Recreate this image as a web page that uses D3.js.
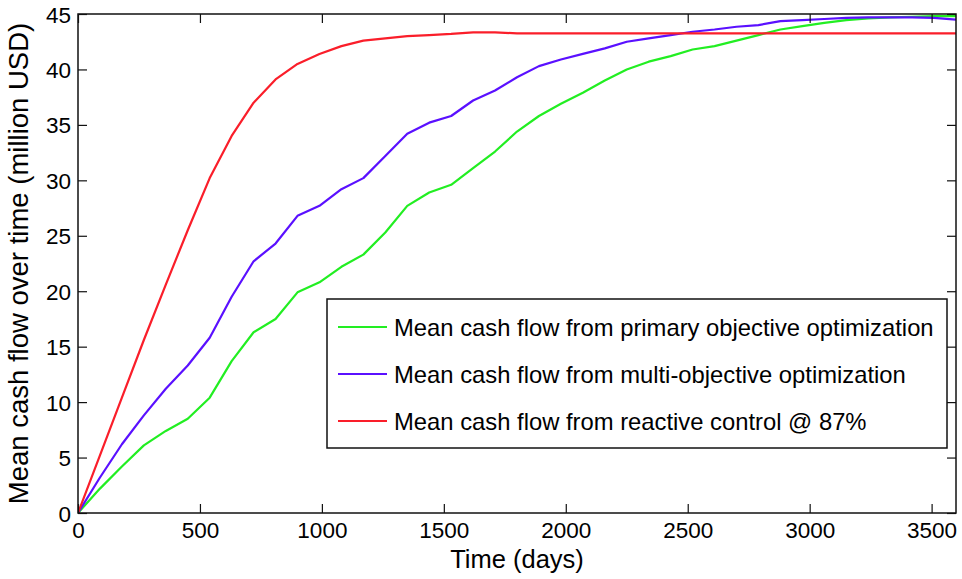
<!DOCTYPE html>
<html>
<head>
<meta charset="utf-8">
<script src="https://cdn.jsdelivr.net/npm/d3@7"></script>
<style>
  html, body { margin: 0; padding: 0; background: #fff; }
  svg { display: block; font-family: Arial, "Liberation Sans", Helvetica, sans-serif; }
</style>
</head>
<body>
<svg id="chart" width="962" height="579"></svg>
<script>
// ---- data ----
const days = [0,90,180,270,360,450,540,630,720,810,900,990,1080,1170,1260,1350,1440,1530,1620,1710,1800,1890,1980,2070,2160,2250,2340,2430,2520,2610,2700,2790,2880,2970,3060,3150,3240,3330,3420,3510,3600];
const primaryObjective = [0,2.2,4.2,6.1,7.4,8.5,10.4,13.7,16.3,17.5,19.9,20.8,22.2,23.3,25.3,27.7,28.9,29.6,31.1,32.6,34.4,35.8,36.9,37.9,39.0,40.0,40.7,41.2,41.8,42.1,42.6,43.1,43.6,43.9,44.2,44.45,44.6,44.7,44.75,44.8,44.8];
const multiObjective = [0,3.2,6.2,8.8,11.2,13.3,15.8,19.5,22.7,24.3,26.8,27.7,29.2,30.2,32.2,34.2,35.2,35.8,37.2,38.1,39.3,40.3,40.9,41.4,41.9,42.5,42.8,43.1,43.4,43.6,43.85,44.0,44.35,44.45,44.55,44.65,44.7,44.7,44.7,44.65,44.5];
const reactiveControl = [0,5.2,10.4,15.6,20.6,25.5,30.2,34.0,37.0,39.1,40.5,41.4,42.1,42.6,42.8,43.0,43.1,43.2,43.35,43.35,43.25,43.25,43.25,43.25,43.25,43.25,43.25,43.25,43.25,43.25,43.25,43.25,43.25,43.25,43.25,43.25,43.25,43.25,43.25,43.25,43.25];
const seriesNames = [
  "Mean cash flow from primary objective optimization",
  "Mean cash flow from multi-objective optimization",
  "Mean cash flow from reactive control @ 87%"
];
const seriesColors = ["#22ee22", "#5a10ff", "#fa1e2a"];
const xTicks = [0,500,1000,1500,2000,2500,3000,3500];
const yTicks = [0,5,10,15,20,25,30,35,40,45];
const xLabel = "Time (days)";
const yLabel = "Mean cash flow over time (million USD)";

// ---- layout ----
const svg = d3.select("#chart");
const L = 78, R = 956, T = 14, B = 513;
const x = d3.scaleLinear().domain([0, 3600]).range([L, R]);
const y = d3.scaleLinear().domain([0, 45]).range([B, T]);

const allSeries = [primaryObjective, multiObjective, reactiveControl];

// lines
const line = d3.line().x((d, i) => x(days[i])).y(d => y(d));
const plot = svg.append("g");
plot.append("defs").append("clipPath").attr("id", "clip")
  .append("rect").attr("x", L).attr("y", T - 2).attr("width", R - L).attr("height", B - T + 2);
allSeries.forEach((s, k) => {
  plot.append("path")
    .datum(s)
    .attr("d", line)
    .attr("fill", "none")
    .attr("stroke", seriesColors[k])
    .attr("stroke-width", 2.2)
    .attr("stroke-linejoin", "round")
    .attr("clip-path", "url(#clip)");
});

// axes (MATLAB style: box with inward ticks)
const tickLen = 9;
const fmt = d3.format("d");
const axBottom = d3.axisBottom(x).tickValues(xTicks).tickFormat(fmt).tickSizeInner(-tickLen).tickSizeOuter(0).tickPadding(9);
const axTop = d3.axisTop(x).tickValues(xTicks).tickSizeInner(-tickLen).tickSizeOuter(0).tickFormat("");
const axLeft = d3.axisLeft(y).tickValues(yTicks).tickFormat(fmt).tickSizeInner(-tickLen).tickSizeOuter(0).tickPadding(7);
const axRight = d3.axisRight(y).tickValues(yTicks).tickSizeInner(-tickLen).tickSizeOuter(0).tickFormat("");

function style(g) {
  g.select(".domain").remove();
  g.selectAll(".tick line").attr("stroke", "#111").attr("stroke-width", 1.2);
  g.selectAll(".tick text").attr("fill", "#000").style("font-size", "22.5px")
    .style("font-family", "Arial, 'Liberation Sans', sans-serif");
}
svg.append("g").attr("transform", `translate(0,${B})`).call(axBottom).call(style)
  .selectAll(".tick text").attr("dy", "0.71em");
svg.append("g").attr("transform", `translate(0,${T})`).call(axTop).call(style);
svg.append("g").attr("transform", `translate(${L},0)`).call(axLeft).call(style)
  .selectAll(".tick text").attr("dy", "0.36em");
svg.append("g").attr("transform", `translate(${R},0)`).call(axRight).call(style);

// box
svg.append("rect").attr("x", L).attr("y", T).attr("width", R - L).attr("height", B - T)
  .attr("fill", "none").attr("stroke", "#111").attr("stroke-width", 1.5);

// axis labels
svg.append("text").attr("x", (L + R) / 2).attr("y", 568)
  .attr("text-anchor", "middle").style("font-size", "25.5px").attr("fill", "#000")
  .text(xLabel);
svg.append("text")
  .attr("transform", `translate(28,${(T + B) / 2}) rotate(-90)`)
  .attr("text-anchor", "middle").style("font-size", "27.5px").attr("fill", "#000")
  .text(yLabel);

// legend
const lg = svg.append("g");
lg.append("rect").attr("x", 327).attr("y", 299).attr("width", 620).attr("height", 149)
  .attr("fill", "#fff").attr("stroke", "#111").attr("stroke-width", 1.5);
const rowY = [327, 374, 421];
seriesNames.forEach((name, k) => {
  lg.append("line").attr("x1", 338).attr("x2", 387).attr("y1", rowY[k]).attr("y2", rowY[k])
    .attr("stroke", seriesColors[k]).attr("stroke-width", 2.2);
  lg.append("text").attr("x", 394).attr("y", rowY[k] + 9)
    .style("font-size", "23.8px").attr("fill", "#000").text(name);
});
</script>
</body>
</html>
